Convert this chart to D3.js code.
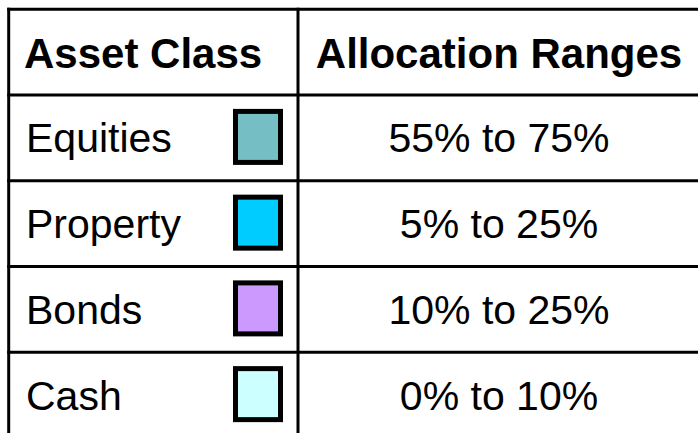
<!DOCTYPE html>
<html>
<head>
<meta charset="utf-8">
<script src="https://cdn.jsdelivr.net/npm/d3@7"></script>
<style>
  body { margin: 0; background: #fff; }
  svg { display: block; font-family: "Liberation Sans", Arial, sans-serif; }
</style>
</head>
<body>
<script>
// table contents
let headers = ['Asset Class', 'Allocation Ranges']
let classes = ['Equities', 'Property', 'Bonds', 'Cash']
let ranges = ['55% to 75%', '5% to 25%', '10% to 25%', '0% to 10%']
let swatchColors = ['#74bec4', '#00ccff', '#cc99ff', '#ccffff']

let width = 698
let height = 433

let svg = d3.select('body')
            .append('svg')
            .attr('width', width)
            .attr('height', height)

// rows: header + one per class
let yScale = d3.scaleBand()
               .domain(['header'].concat(classes))
               .range([9.3, 438])

// column edges
let xScale = d3.scaleLinear()
               .domain([0, 1, 2])
               .range([8.7, 298, 700])

let lineColor = '#000'

// horizontal rules
let rules = ['header'].concat(classes).map(d => yScale(d))
svg.selectAll('line.h')
    .data(rules)
    .enter()
    .append('line')
    .attr('class', 'h')
    .attr('x1', xScale(0) - 1.5)
    .attr('x2', width)
    .attr('y1', d => d)
    .attr('y2', d => d)
    .attr('stroke', lineColor)
    .attr('stroke-width', 3)

// vertical rules
svg.selectAll('line.v')
    .data([0, 1])
    .enter()
    .append('line')
    .attr('class', 'v')
    .attr('x1', d => xScale(d))
    .attr('x2', d => xScale(d))
    .attr('y1', yScale('header') - 1.5)
    .attr('y2', height)
    .attr('stroke', lineColor)
    .attr('stroke-width', 3)

let band = yScale.bandwidth()
let mid = d => yScale(d) + band / 2

// header text
svg.append('text')
    .attr('x', 24)
    .attr('y', mid('header') + 16)
    .attr('font-size', 42)
    .attr('font-weight', 'bold')
    .text(headers[0])

svg.append('text')
    .attr('x', (xScale(1) + xScale(2)) / 2)
    .attr('y', mid('header') + 16)
    .attr('text-anchor', 'middle')
    .attr('font-size', 42)
    .attr('font-weight', 'bold')
    .text(headers[1])

// class names
svg.selectAll('text.cls')
    .data(classes)
    .enter()
    .append('text')
    .attr('class', 'cls')
    .attr('x', 26)
    .attr('y', d => mid(d) + 14.5)
    .attr('font-size', 41)
    .text(d => d)

// colour swatches
svg.selectAll('rect.swatch')
    .data(classes)
    .enter()
    .append('rect')
    .attr('class', 'swatch')
    .attr('x', 235.5)
    .attr('y', d => mid(d) - 26.5)
    .attr('width', 45)
    .attr('height', 51)
    .attr('fill', (d, i) => swatchColors[i])
    .attr('stroke', '#000')
    .attr('stroke-width', 5)

// ranges
svg.selectAll('text.range')
    .data(classes)
    .enter()
    .append('text')
    .attr('class', 'range')
    .attr('x', (xScale(1) + xScale(2)) / 2)
    .attr('y', d => mid(d) + 14.5)
    .attr('text-anchor', 'middle')
    .attr('font-size', 41)
    .text((d, i) => ranges[i])
</script>
</body>
</html>
